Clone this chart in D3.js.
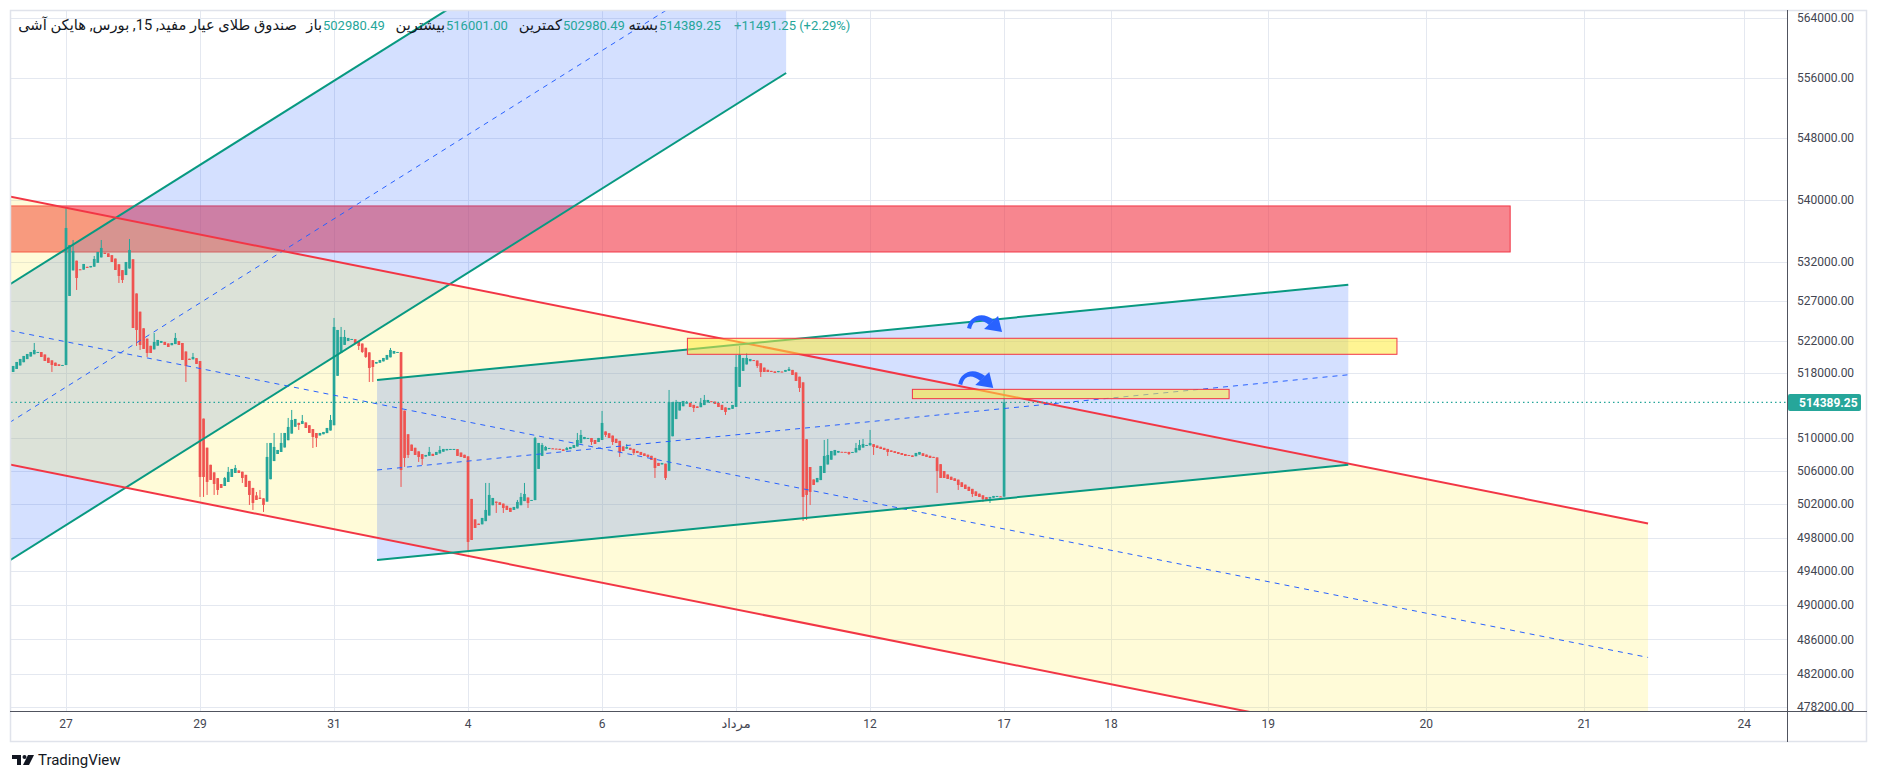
<!DOCTYPE html>
<html><head><meta charset="utf-8">
<script src="https://cdn.jsdelivr.net/npm/d3@7"></script>
<style>
html,body{margin:0;padding:0;background:#fff;}
svg{display:block;}
text{font-family:Roboto,"DejaVu Sans",sans-serif;}
</style>
</head><body>
<svg id="c" width="1879" height="781"></svg>
<script>
// ---------------- DATA ----------------
// Heikin Ashi 15-minute candles (values in rial). 15 bars before Tir 27, then 19 bars per trading day.
const preBars = 15;
const firstOpen = 518152;
const closes = [
  518897,519394,519768,520141,520390,520640,520889,520640,520017,519519,519270,519021,518897,518897,519021,
  536334,534155,533387,529949,530965,531730,531220,531475,532367,533260,533771,533005,532622,531984,530965,530203,529695,531984,533515,
  523640,523390,521513,521014,520515,520515,521888,522138,522013,521513,521263,521763,522390,521513,519643,518897,519643,520017,519146,
  505283,505283,504679,504920,504437,503712,503954,505162,505889,506252,506374,505768,505162,504075,503110,502146,502507,502628,501906,
  507710,509414,508927,508561,509414,510636,511371,512228,512351,511616,512106,511248,510636,510147,510025,510636,510758,511248,512228,
  523767,523390,522515,522515,522390,522265,521763,521388,520640,520017,518649,518773,519394,519643,519892,520266,520889,520764,520640,
  506131,507588,507953,508439,507953,507710,507467,507953,508318,507831,508318,508561,508683,508683,508683,508683,507831,507710,507588,
  497478,497716,499148,499507,500346,501305,503110,502748,502146,501906,501545,501305,501065,501666,502267,502869,503230,502146,502507,
  510025,509414,509170,508927,508805,508683,508683,508561,508439,508805,508927,509170,509780,510392,510147,510025,509536,509292,510025,
  511861,510392,510025,509536,509414,508318,508439,508927,508561,508196,508196,507953,507831,507710,507345,506374,506617,506981,505162,
  514442,514442,514442,514442,514565,514442,513827,513703,513703,514319,514688,514688,514442,514196,513827,513457,513211,513703,514073,
  518773,520266,519892,519892,519768,519519,518897,518152,518152,518152,518152,518028,518276,518152,518400,518524,517780,517035,516170,
  502869,503110,503471,504316,505162,506617,507831,507953,508439,508561,508439,508318,508318,508075,508318,508805,509170,509292,509170,
  509414,508927,508805,508683,508561,508318,508318,508196,508075,507953,507831,507831,507710,508196,508318,507831,507710,507588,507588,
  506010,505162,505162,505041,504920,504800,504316,504075,503833,503592,503230,502989,502869,502628,502507,502869,502989,502989,502869,
  514389.25
];
// raw wick extremes (0 = no wick beyond the body)
const wickHighs = [
  0,0,0,0,0,0,521763,0,0,0,0,0,0,0,0,
  538908,0,534794,0,0,0,0,0,532749,0,534794,0,0,0,0,0,0,0,534922,
  0,0,0,0,0,0,523015,0,0,0,0,0,523015,0,0,0,0,520515,0,
  0,0,0,0,0,0,0,505283,506495,0,506738,0,0,0,0,0,503471,503712,0,
  509414,0,510636,0,510636,0,512474,513457,0,0,512843,0,0,0,0,0,0,0,512843,
  524896,0,523767,523390,0,0,0,0,0,0,0,0,0,0,0,0,521139,0,0,
  0,0,0,0,0,0,0,0,508927,0,0,509048,0,0,0,0,0,0,0,
  0,0,0,0,0,504558,504558,0,0,0,0,0,0,0,502507,503351,504558,0,0,
  510147,0,509414,509048,0,0,0,0,0,508927,0,0,510636,511003,0,0,0,0,0,
  513334,0,0,0,0,0,0,509292,0,0,0,0,0,0,0,0,506981,0,0,
  515922,0,514688,0,0,514565,0,0,0,514935,515305,0,0,0,0,0,0,0,0,
  520266,521388,0,520515,0,0,0,0,0,0,0,0,0,0,0,518773,0,0,0,
  0,0,0,504558,0,0,509780,509902,0,0,0,0,0,0,0,509414,509780,509902,0,
  511003,0,0,0,0,0,0,0,0,0,0,0,0,0,0,0,0,0,0,
  0,0,0,0,0,0,0,0,0,0,0,0,0,0,0,0,0,0,0,
  516001
];
const wickLows = [
  518152,0,0,0,0,0,0,0,0,0,0,518152,0,0,0,
  0,0,0,528428,0,0,0,0,0,0,0,0,0,0,0,529315,529315,0,0,
  0,521388,520889,0,520017,0,0,0,0,0,0,0,0,0,0,516911,0,0,0,
  502869,502869,503110,0,503110,503110,0,0,0,0,0,0,504558,0,501906,501305,0,0,501065,
  0,0,0,0,0,0,0,0,0,511003,0,0,0,508805,508927,0,0,0,0,
  0,0,0,0,0,0,0,520889,520515,519892,516911,516911,0,0,0,0,0,0,0,
  504075,506495,507588,0,0,507102,506738,0,0,0,0,0,0,0,0,0,0,0,0,
  496288,0,0,0,0,0,0,0,500945,0,500945,0,0,0,0,0,0,501545,0,
  0,0,0,0,0,0,0,0,0,0,0,0,0,0,0,0,509170,0,0,
  0,510147,0,509170,0,507710,0,0,0,507953,0,0,0,0,0,505162,0,0,504920,
  0,0,0,0,0,0,0,513211,0,0,0,0,0,0,0,0,512843,0,0,
  0,0,0,0,0,0,518649,517531,0,0,0,0,0,0,0,0,0,0,515675,
  499986,500106,501906,0,0,0,0,0,0,0,0,0,0,507953,0,0,0,0,0,
  0,507953,0,0,0,507831,0,0,0,0,0,0,0,0,0,0,0,0,0,
  503351,0,0,0,0,0,503712,0,0,0,502869,0,0,502267,0,502146,0,0,0,
  502980.49
];

const xTickLabels = ['27','29','31','4','6','مرداد','12','17','18','19','20','21','24'];
const xTickBars   = [0,38,76,114,152,190,228,266,296.3,340.9,385.7,430.5,475.9];
const priceTicks  = [564000,556000,548000,540000,532000,527000,522000,518000,510000,506000,502000,498000,494000,490000,486000,482000,478200];

// drawings: [bar, price] anchors
const redChannel   = [[-16,540395],[448.6,499687],[-16,506795]];   // upper line p1,p2 ; lower line start
const bigBlueChan  = [[-16,495272],[204.2,556620],[-16,529124]];   // lower line p1,p2 ; upper line start
const smallChan    = [[88.2,495331],[363.6,506758],[88.2,517159]]; // lower line p1,p2 ; upper line start
const redZone      = [[-16,533260],[409.5,539170]];
const yellowZones  = [[[176.2,520350],[377.4,522350]],[[240.0,514850],[329.8,516000]]];
const arrowAnchors = [[255.5,523767],[253.0,516788]];

const title = 'صندوق طلای عیار مفید, 15, بورس, هایکن آشی';
const ohlcLabels = ['باز','بیشترین','کمترین','بسته'];
const ohlcValues = ['502980.49','516001.00','502980.49','514389.25'];
const changeText = '+11491.25 (+2.29%)';
const lastPrice = 514389.25;

// ---------------- CHART ----------------
const svg = d3.select('#c');
const P = {l:11, r:1787, t:11, b:711};
const x = d3.scaleLinear().domain([-15.6, 488]).range([P.l, P.r]);
const y = d3.scaleLog().domain([477736, 565082]).range([711, 10]);

svg.append('defs').append('clipPath').attr('id','clip')
  .append('rect').attr('x',P.l).attr('y',P.t).attr('width',P.r-P.l).attr('height',P.b-P.t);

// grid
const grid = svg.append('g').attr('stroke','#e4e8f0').attr('stroke-width',1);
xTickBars.forEach(b=>{ const px=Math.round(x(b))+0.5;
  grid.append('line').attr('x1',px).attr('x2',px).attr('y1',P.t).attr('y2',P.b); });
priceTicks.forEach(p=>{ const py=Math.round(y(p))+0.5;
  grid.append('line').attr('x1',P.l).attr('x2',P.r).attr('y1',py).attr('y2',py); });

const g = svg.append('g').attr('clip-path','url(#clip)');

// red zone rect (bottom)
g.append('rect')
  .attr('x',x(redZone[0][0])).attr('y',y(redZone[1][1]))
  .attr('width',x(redZone[1][0])-x(redZone[0][0])).attr('height',y(redZone[0][1])-y(redZone[1][1]))
  .attr('fill','rgba(242,54,69,0.6)').attr('stroke','#f23645').attr('stroke-width',1);

function channelGeom(ch){
  const [a,b,c] = ch;
  const off = y(c[1]) - y(a[1]);
  const A=[x(a[0]),y(a[1])], B=[x(b[0]),y(b[1])];
  return {A,B,C:[B[0],B[1]+off],D:[A[0],A[1]+off],M1:[A[0],A[1]+off/2],M2:[B[0],B[1]+off/2]};
}
const chans = [
  {d:bigBlueChan, fill:'rgba(41,98,255,0.2)', line:'#089981'},
  {d:redChannel,  fill:'rgba(255,235,59,0.2)', line:'#f23645'},
  {d:smallChan,   fill:'rgba(41,98,255,0.2)', line:'#089981'}
].map(c=>Object.assign(c,{gm:channelGeom(c.d)}));

chans.forEach(c=>{
  const q=c.gm;
  g.append('path').attr('d',`M${q.A}L${q.B}L${q.C}L${q.D}Z`).attr('fill',c.fill);
});

// candles
const N = closes.length;
const opens = [firstOpen];
for (let i=1;i<N;i++) opens[i] = (opens[i-1]+closes[i-1])/2; // Heikin Ashi open
const candles = closes.map((c,i)=>{
  const o=opens[i];
  return {b:i-preBars, o, c,
    hi:Math.max(o,c,wickHighs[i]||0),
    lo:Math.min(o,c,wickLows[i]||Infinity)};
});
const cg = g.append('g');
candles.forEach(d=>{
  const col = d.c>=d.o ? '#26a69a' : '#ef5350';
  const cx = x(d.b);
  cg.append('line').attr('x1',cx).attr('x2',cx).attr('y1',y(d.hi)).attr('y2',y(d.lo))
    .attr('stroke',col).attr('stroke-width',1);
  const top = y(Math.max(d.o,d.c)), bot = y(Math.min(d.o,d.c));
  cg.append('rect').attr('x',cx-1.35).attr('width',2.7)
    .attr('y',top).attr('height',Math.max(1,bot-top)).attr('fill',col);
});

// channel lines
chans.forEach(c=>{
  const q=c.gm;
  g.append('line').attr('x1',q.A[0]).attr('y1',q.A[1]).attr('x2',q.B[0]).attr('y2',q.B[1])
    .attr('stroke',c.line).attr('stroke-width',2);
  g.append('line').attr('x1',q.D[0]).attr('y1',q.D[1]).attr('x2',q.C[0]).attr('y2',q.C[1])
    .attr('stroke',c.line).attr('stroke-width',2);
  g.append('line').attr('x1',q.M1[0]).attr('y1',q.M1[1]).attr('x2',q.M2[0]).attr('y2',q.M2[1])
    .attr('stroke','#2962ff').attr('stroke-width',1).attr('stroke-dasharray','5,5');
});

// yellow zones
yellowZones.forEach(z=>{
  g.append('rect')
    .attr('x',x(z[0][0])).attr('y',y(z[1][1]))
    .attr('width',x(z[1][0])-x(z[0][0])).attr('height',y(z[0][1])-y(z[1][1]))
    .attr('fill','rgba(255,235,59,0.55)').attr('stroke','#f23645').attr('stroke-width',1);
});

// arrows
arrowAnchors.forEach(a=>{
  const ag = g.append('g').attr('transform',`translate(${x(a[0])},${y(a[1])})`).attr('fill','#2962ff');
  ag.append('path').attr('d','M0,1 C2,-10 14,-17 27,-7 L22,-2 C14,-9 6,-8 4,2 Z');
  ag.append('path').attr('d','M17,2 L31,-11 L35,5 Z');
});

// last price line
const ly = y(lastPrice);
g.append('line').attr('x1',P.l).attr('x2',P.r).attr('y1',ly).attr('y2',ly)
  .attr('stroke','#26a69a').attr('stroke-width',1.2).attr('stroke-dasharray','1.5,3');

// frame & axes
svg.append('rect').attr('x',10.5).attr('y',10.5).attr('width',1856).attr('height',731)
  .attr('fill','none').attr('stroke','#e0e3eb').attr('stroke-width',1.5);
svg.append('line').attr('x1',1787.5).attr('x2',1787.5).attr('y1',10).attr('y2',742)
  .attr('stroke','#50535e').attr('stroke-width',1);
svg.append('line').attr('x1',10).attr('x2',1867).attr('y1',711.5).attr('y2',711.5)
  .attr('stroke','#50535e').attr('stroke-width',1);

// price axis labels
const ya = svg.append('g').attr('font-size',12).attr('fill','#434651');
priceTicks.forEach(p=>{
  ya.append('text').attr('x',1797).attr('y',y(p)).attr('dy','0.35em').text(d3.format('.2f')(p));
});
svg.append('rect').attr('x',1788).attr('y',ly-8.5).attr('width',73).attr('height',17).attr('rx',2).attr('fill','#26a69a');
svg.append('text').attr('x',1799).attr('y',ly).attr('dy','0.35em').attr('font-size',12).attr('font-weight','bold')
  .attr('fill','#fff').text(d3.format('.2f')(lastPrice));

// time axis labels
const xa = svg.append('g').attr('font-size',12).attr('fill','#434651').attr('text-anchor','middle');
xTickBars.forEach((b,i)=>{
  xa.append('text').attr('x',x(b)).attr('y',728).attr('font-size',i===5?13:12).text(xTickLabels[i]);
});

// header legend
const hd = svg.append('g').attr('font-size',13);
hd.append('text').attr('x',297).attr('y',30).attr('font-size',14.7).attr('text-anchor','end')
  .attr('fill','#131722').text(title);
const valueX = [323,446,563,659];
ohlcLabels.forEach((l,i)=>{
  hd.append('text').attr('x',valueX[i]-1).attr('y',30).attr('font-size',14.7).attr('text-anchor','end')
    .attr('fill','#131722').text(l);
  hd.append('text').attr('x',valueX[i]).attr('y',29.5).attr('fill','#26a69a').text(ohlcValues[i]);
});
hd.append('text').attr('x',734).attr('y',29.5).attr('fill','#26a69a').text(changeText);

// TradingView mark
const tv = svg.append('g').attr('fill','#131722');
tv.append('path').attr('d','M12,755 h9 v10 h-4 v-6 h-5 z');
tv.append('circle').attr('cx',24.5).attr('cy',757).attr('r',2);
tv.append('path').attr('d','M28,755 h6 l-5,10 h-6 z');
tv.append('text').attr('x',38).attr('y',765).attr('font-size',15).attr('fill','#131722').text('TradingView');
</script>
</body></html>
